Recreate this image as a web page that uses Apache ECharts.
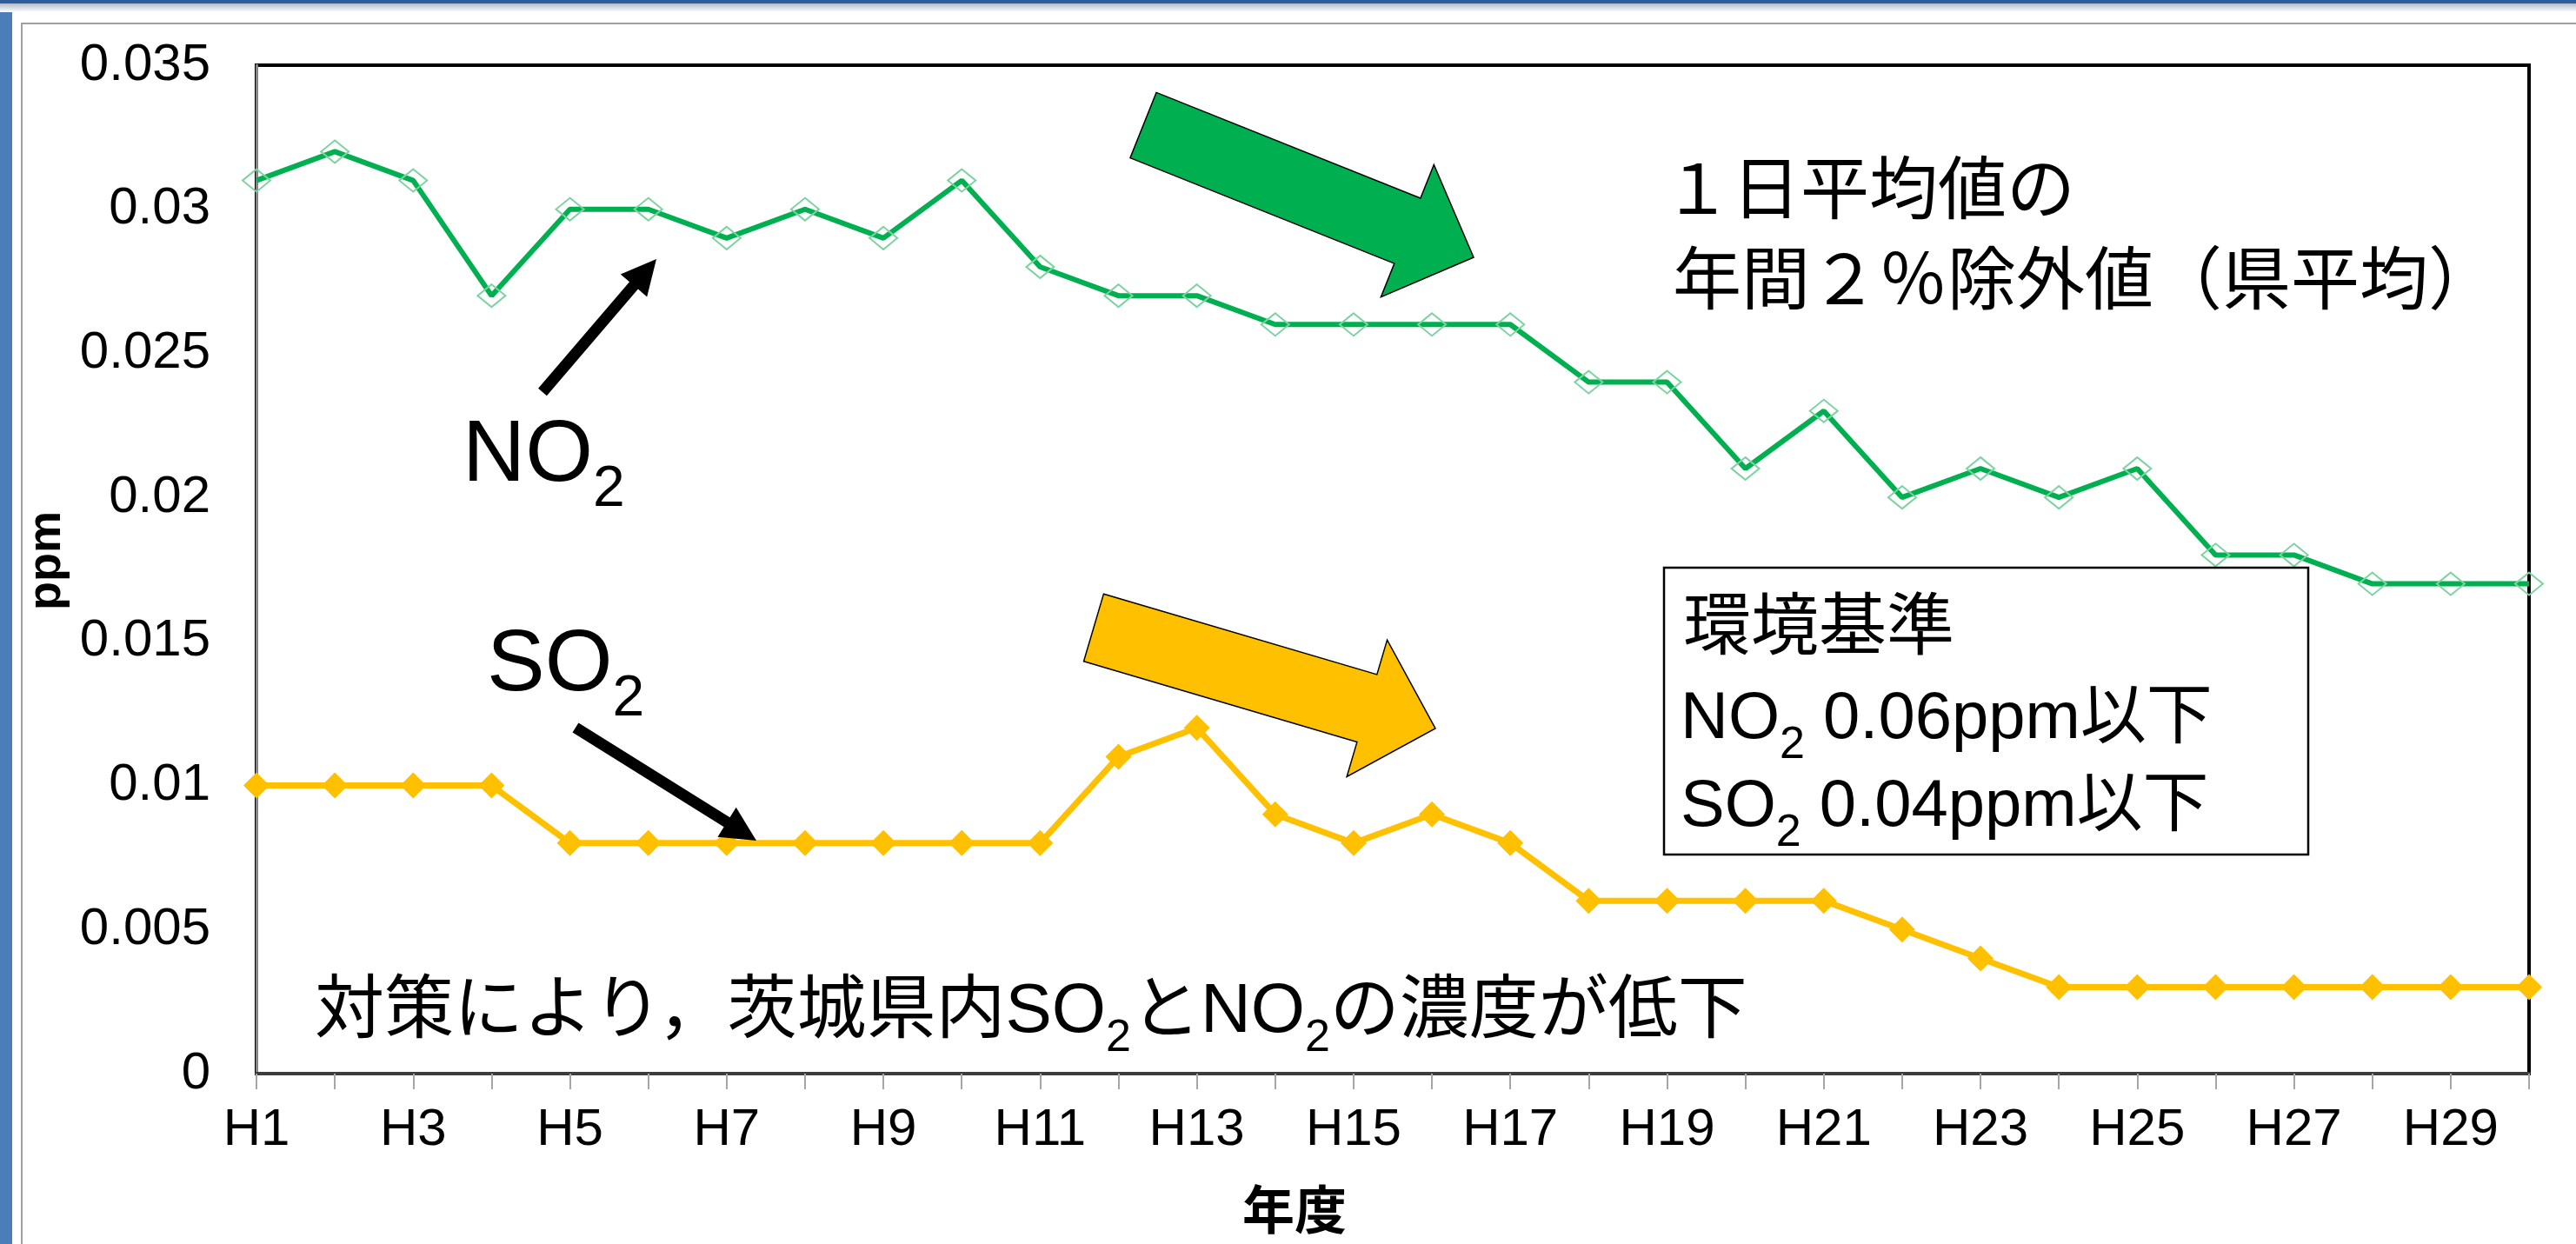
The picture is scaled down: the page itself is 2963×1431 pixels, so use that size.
<!DOCTYPE html>
<html>
<head>
<meta charset="utf-8">
<script src="https://cdn.jsdelivr.net/npm/echarts@6/dist/echarts.min.js"></script>
<style>
html, body { margin: 0; padding: 0; background: #fff; }
#chart { width: 2963px; height: 1431px; }
</style>
</head>
<body>
<div id="chart"></div>
<script>
// 年度
var years = ['H1', 'H2', 'H3', 'H4', 'H5', 'H6', 'H7', 'H8', 'H9', 'H10',
    'H11', 'H12', 'H13', 'H14', 'H15', 'H16', 'H17', 'H18', 'H19', 'H20',
    'H21', 'H22', 'H23', 'H24', 'H25', 'H26', 'H27', 'H28', 'H29', 'H30'];

// 1日平均値の年間2%除外値(県平均) ppm
var no2 = [0.031, 0.032, 0.031, 0.027, 0.030, 0.030, 0.029, 0.030, 0.029, 0.031,
    0.028, 0.027, 0.027, 0.026, 0.026, 0.026, 0.026, 0.024, 0.024, 0.021,
    0.023, 0.020, 0.021, 0.020, 0.021, 0.018, 0.018, 0.017, 0.017, 0.017];
var so2 = [0.010, 0.010, 0.010, 0.010, 0.008, 0.008, 0.008, 0.008, 0.008, 0.008,
    0.008, 0.011, 0.012, 0.009, 0.008, 0.009, 0.008, 0.006, 0.006, 0.006,
    0.006, 0.005, 0.004, 0.003, 0.003, 0.003, 0.003, 0.003, 0.003, 0.003];

var yMin = 0, yMax = 0.035, yStep = 0.005;

var FONT = "'Liberation Sans', 'Noto Sans CJK JP', sans-serif";

// 矢印の多角形 (始点, 先端, 軸の太さ, 頭の長さ, 頭の幅)
function arrow(x1, y1, x2, y2, w, hl, hw) {
    var dx = x2 - x1, dy = y2 - y1;
    var len = Math.sqrt(dx * dx + dy * dy);
    var ux = dx / len, uy = dy / len, nx = -uy, ny = ux;
    var bx = x2 - ux * hl, by = y2 - uy * hl;
    return [
        [x1 + nx * w / 2, y1 + ny * w / 2],
        [bx + nx * w / 2, by + ny * w / 2],
        [bx + nx * hw / 2, by + ny * hw / 2],
        [x2, y2],
        [bx - nx * hw / 2, by - ny * hw / 2],
        [bx - nx * w / 2, by - ny * w / 2],
        [x1 - nx * w / 2, y1 - ny * w / 2]
    ];
}

function richText(x, y, text, size, subSize, subShift, lh) {
    return {
        type: 'text', x: x, y: y, z: 100,
        style: {
            text: text,
            align: 'left',
            verticalAlign: 'middle',
            fill: '#000',
            rich: {
                m: { fontSize: size, fontFamily: FONT, lineHeight: lh, fill: '#000' },
                s: { fontSize: subSize, fontFamily: FONT, lineHeight: 20, fill: '#000', padding: [subShift * 2, 0, 0, 0] }
            }
        }
    };
}

var chart = echarts.init(document.getElementById('chart'));

chart.setOption({
    animation: false,
    backgroundColor: '#fff',
    grid: {
        left: 295, top: 75, right: 54, bottom: 196,
        show: true, borderColor: '#000', borderWidth: 4,
        containLabel: false, outerBoundsMode: 'none'
    },
    xAxis: {
        type: 'category',
        data: years,
        boundaryGap: false,
        name: '年度',
        nameLocation: 'middle',
        nameGap: 132,
        nameTextStyle: { fontSize: 60, fontWeight: 'bold', fontFamily: FONT, color: '#000', padding: [0, 226, 0, 0] },
        axisLine: { lineStyle: { color: '#3c3c3c', width: 4 } },
        axisTick: { show: true, interval: 0, length: 18, lineStyle: { color: '#a6a6a6', width: 2 } },
        axisLabel: { interval: 1, fontSize: 60, fontFamily: FONT, color: '#000', margin: 35 },
        splitLine: { show: false }
    },
    yAxis: {
        type: 'value',
        min: yMin, max: yMax, interval: yStep,
        name: 'ppm',
        nameLocation: 'middle',
        nameRotate: 90,
        nameGap: 181,
        nameTextStyle: { fontSize: 54, fontWeight: 'bold', fontFamily: FONT, color: '#000', padding: [0, 0, 0, 20] },
        axisLine: { show: true, lineStyle: { color: '#868686', width: 3 } },
        axisTick: { show: false },
        axisLabel: { fontSize: 60, fontFamily: FONT, color: '#000', margin: 53 },
        splitLine: { show: false }
    },
    series: [
        {
            name: 'NO2',
            type: 'line',
            data: no2,
            symbol: 'diamond',
            symbolSize: [32, 26],
            showAllSymbol: true,
            clip: false,
            lineStyle: { color: '#00B050', width: 6 },
            itemStyle: { color: 'rgba(255,255,255,0)', borderColor: '#7dd3a0', borderWidth: 2 },
            emphasis: { disabled: true },
            z: 3
        },
        {
            name: 'SO2',
            type: 'line',
            data: so2,
            symbol: 'diamond',
            symbolSize: [30, 30],
            showAllSymbol: true,
            clip: false,
            lineStyle: { color: '#FFC000', width: 7 },
            itemStyle: { color: '#FFC000' },
            emphasis: { disabled: true },
            z: 3
        }
    ],
    graphic: [
        // スライドの枠
        { type: 'rect', shape: { x: 0, y: 0, width: 14, height: 1431 }, style: { fill: '#4a7ebb' }, z: 50 },
        {
            type: 'rect', shape: { x: 0, y: 3, width: 2963, height: 11 }, z: 50,
            style: { fill: new echarts.graphic.LinearGradient(0, 0, 0, 1, [{ offset: 0, color: '#a9b4c4' }, { offset: 1, color: '#ffffff' }]) }
        },
        { type: 'rect', shape: { x: 0, y: 0, width: 2963, height: 4 }, style: { fill: '#2e5c9a' }, z: 51 },
        { type: 'rect', shape: { x: 25, y: 27, width: 2980, height: 1440 }, style: { fill: 'none', stroke: '#a0a0a0', lineWidth: 2 }, z: 50 },

        // 低下傾向の矢印
        { type: 'polygon', shape: { points: arrow(1315, 144, 1695, 296, 81, 82, 164) }, style: { fill: '#00B050', stroke: '#000', lineWidth: 1.5 }, z: 100 },
        { type: 'polygon', shape: { points: arrow(1258, 722, 1651, 838, 81, 82, 164) }, style: { fill: '#FFC000', stroke: '#000', lineWidth: 1.5 }, z: 100 },

        // 系列名の矢印
        { type: 'polygon', shape: { points: arrow(624, 451, 755, 298, 13, 40, 40) }, style: { fill: '#000' }, z: 100 },
        { type: 'polygon', shape: { points: arrow(662, 837, 870, 967, 13, 40, 40) }, style: { fill: '#000' }, z: 100 },

        richText(532, 525, '{m|NO}{s|2}', 100, 66, 39, 130),
        richText(560, 766, '{m|SO}{s|2}', 100, 66, 39, 130),

        { type: 'text', x: 1913, y: 224, z: 100, style: { text: '１日平均値の', fontSize: 79, fontFamily: FONT, fill: '#000', align: 'left', verticalAlign: 'middle' } },
        { type: 'text', x: 1924, y: 328, z: 100, style: { text: '年間２％除外値（県平均）', fontSize: 79, fontFamily: FONT, fill: '#000', align: 'left', verticalAlign: 'middle' } },

        // 環境基準
        { type: 'rect', shape: { x: 1914, y: 653, width: 741, height: 330 }, style: { fill: '#fff', stroke: '#000', lineWidth: 2.5 }, z: 99 },
        { type: 'text', x: 1936, y: 725, z: 100, style: { text: '環境基準', fontSize: 78, fontFamily: FONT, fill: '#000', align: 'left', verticalAlign: 'middle' } },
        richText(1933, 828, '{m|NO}{s|2}{m| 0.06ppm以下}', 76, 52, 30, 100),
        richText(1933, 929, '{m|SO}{s|2}{m| 0.04ppm以下}', 76, 52, 30, 100),

        richText(362, 1165, '{m|対策により，茨城県内SO}{s|2}{m|とNO}{s|2}{m|の濃度が低下}', 80, 52, 30, 110)
    ]
});
</script>
</body>
</html>
